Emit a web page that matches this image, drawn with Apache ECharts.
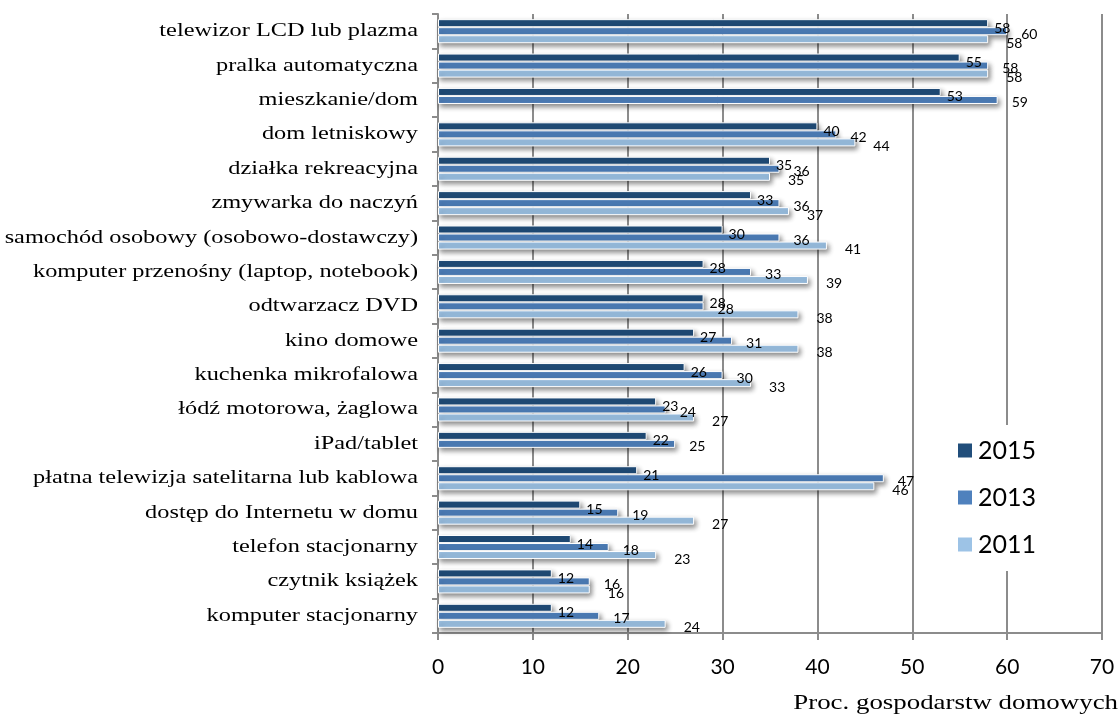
<!DOCTYPE html>
<html>
<head>
<meta charset="utf-8">
<script src="https://cdn.jsdelivr.net/npm/echarts@6/dist/echarts.min.js"></script>
<style>
  html, body { margin: 0; padding: 0; background: #fff; }
  #chart { width: 1120px; height: 718px; }
</style>
</head>
<body>
<div id="chart"></div>
<script>
// Posiadane dobra trwałego użytku – odsetek gospodarstw domowych
const categories = [
  'telewizor LCD lub plazma',
  'pralka automatyczna',
  'mieszkanie/dom',
  'dom letniskowy',
  'działka rekreacyjna',
  'zmywarka do naczyń',
  'samochód osobowy (osobowo-dostawczy)',
  'komputer przenośny (laptop, notebook)',
  'odtwarzacz DVD',
  'kino domowe',
  'kuchenka mikrofalowa',
  'łódź motorowa, żaglowa',
  'iPad/tablet',
  'płatna telewizja satelitarna lub kablowa',
  'dostęp do Internetu w domu',
  'telefon stacjonarny',
  'czytnik książek',
  'komputer stacjonarny'
];

const values2015 = [58, 55, 53, 40, 35, 33, 30, 28, 28, 27, 26, 23, 22, 21, 15, 14, 12, 12];
const values2013 = [60, 58, 59, 42, 36, 36, 36, 33, 28, 31, 30, 24, 25, 47, 19, 18, 16, 17];
const values2011 = [58, 58, null, 44, 35, 37, 41, 39, 38, 38, 33, 27, null, 46, 27, 23, 16, 24];

const xTicks = [0, 10, 20, 30, 40, 50, 60, 70];
const xAxisTitle = 'Proc. gospodarstw domowych';

const seriesDefs = [
  { name: '2015', data: values2015, color: '#214E7B', labelOffset: [4, 5] },
  { name: '2013', data: values2013, color: '#4F81BD', labelOffset: [12, 3] },
  { name: '2011', data: values2011, color: '#9DC3E6', labelOffset: [16, 4] }
];

// Serif texts are drawn slightly widened
const SERIF_WIDEN = 1.28;

const chart = echarts.init(document.getElementById('chart'));

chart.setOption({
  animation: false,
  backgroundColor: '#ffffff',
  grid: { left: 438, right: 18, top: 14, bottom: 85, containLabel: false },
  legend: {
    orient: 'vertical',
    left: 944,
    top: 425,
    itemWidth: 16,
    itemHeight: 16,
    itemGap: 22,
    padding: [13, 14, 14, 12],
    backgroundColor: '#ffffff',
    icon: 'rect',
    textStyle: { fontFamily: 'Lato', fontSize: 25, color: '#000' },
    data: seriesDefs.map(s => s.name)
  },
  xAxis: {
    type: 'value',
    min: xTicks[0],
    max: xTicks[xTicks.length - 1],
    interval: 10,
    axisLine: { show: true, lineStyle: { color: '#8c8c8c', width: 2 } },
    axisTick: { show: true, length: 7, lineStyle: { color: '#8c8c8c', width: 2 } },
    axisLabel: { fontFamily: 'Lato', fontSize: 21, color: '#000', margin: 24 },
    splitLine: { show: true, lineStyle: { color: '#8c8c8c', width: 2 } }
  },
  yAxis: {
    type: 'category',
    inverse: true,
    data: categories,
    axisLine: { show: true, lineStyle: { color: '#8c8c8c', width: 2 } },
    axisTick: { show: true, length: 6, alignWithLabel: false, lineStyle: { color: '#8c8c8c', width: 2 } },
    axisLabel: { show: false },
    splitLine: { show: false }
  },
  series: seriesDefs.map(s => ({
    name: s.name,
    type: 'bar',
    data: s.data,
    barGap: '0%',
    barCategoryGap: '30%',
    itemStyle: {
      color: s.color,
      borderColor: '#ffffff',
      borderWidth: 1,
      shadowColor: 'rgba(0,0,0,0.45)',
      shadowBlur: 5,
      shadowOffsetX: 2,
      shadowOffsetY: 3
    },
    label: {
      show: true,
      position: 'right',
      distance: 2,
      offset: s.labelOffset,
      fontFamily: 'Lato',
      fontSize: 14,
      color: '#000'
    }
  }))
});

// Category names and the value-axis title, placed through the axes' own scales
const axisLeftX = chart.convertToPixel({ xAxisIndex: 0 }, xTicks[0]);
const axisRightX = chart.convertToPixel({ xAxisIndex: 0 }, xTicks[xTicks.length - 1]);
const axisBottomY = chart.convertToPixel({ yAxisIndex: 0 }, categories[categories.length - 1])
  + (chart.convertToPixel({ yAxisIndex: 0 }, categories[1]) - chart.convertToPixel({ yAxisIndex: 0 }, categories[0])) / 2;

const labelElements = categories.map(name => ({
  type: 'text',
  x: axisLeftX - 20,
  y: chart.convertToPixel({ yAxisIndex: 0 }, name),
  scaleX: SERIF_WIDEN,
  style: {
    text: name,
    fontFamily: 'Liberation Serif',
    fontSize: 19,
    fill: '#000',
    textAlign: 'right',
    textVerticalAlign: 'middle'
  }
}));

labelElements.push({
  type: 'text',
  x: axisRightX + 16,
  y: axisBottomY + 70,
  scaleX: SERIF_WIDEN,
  style: {
    text: xAxisTitle,
    fontFamily: 'Liberation Serif',
    fontSize: 21,
    fill: '#000',
    textAlign: 'right',
    textVerticalAlign: 'middle'
  }
});

chart.setOption({ graphic: labelElements });
</script>
</body>
</html>
